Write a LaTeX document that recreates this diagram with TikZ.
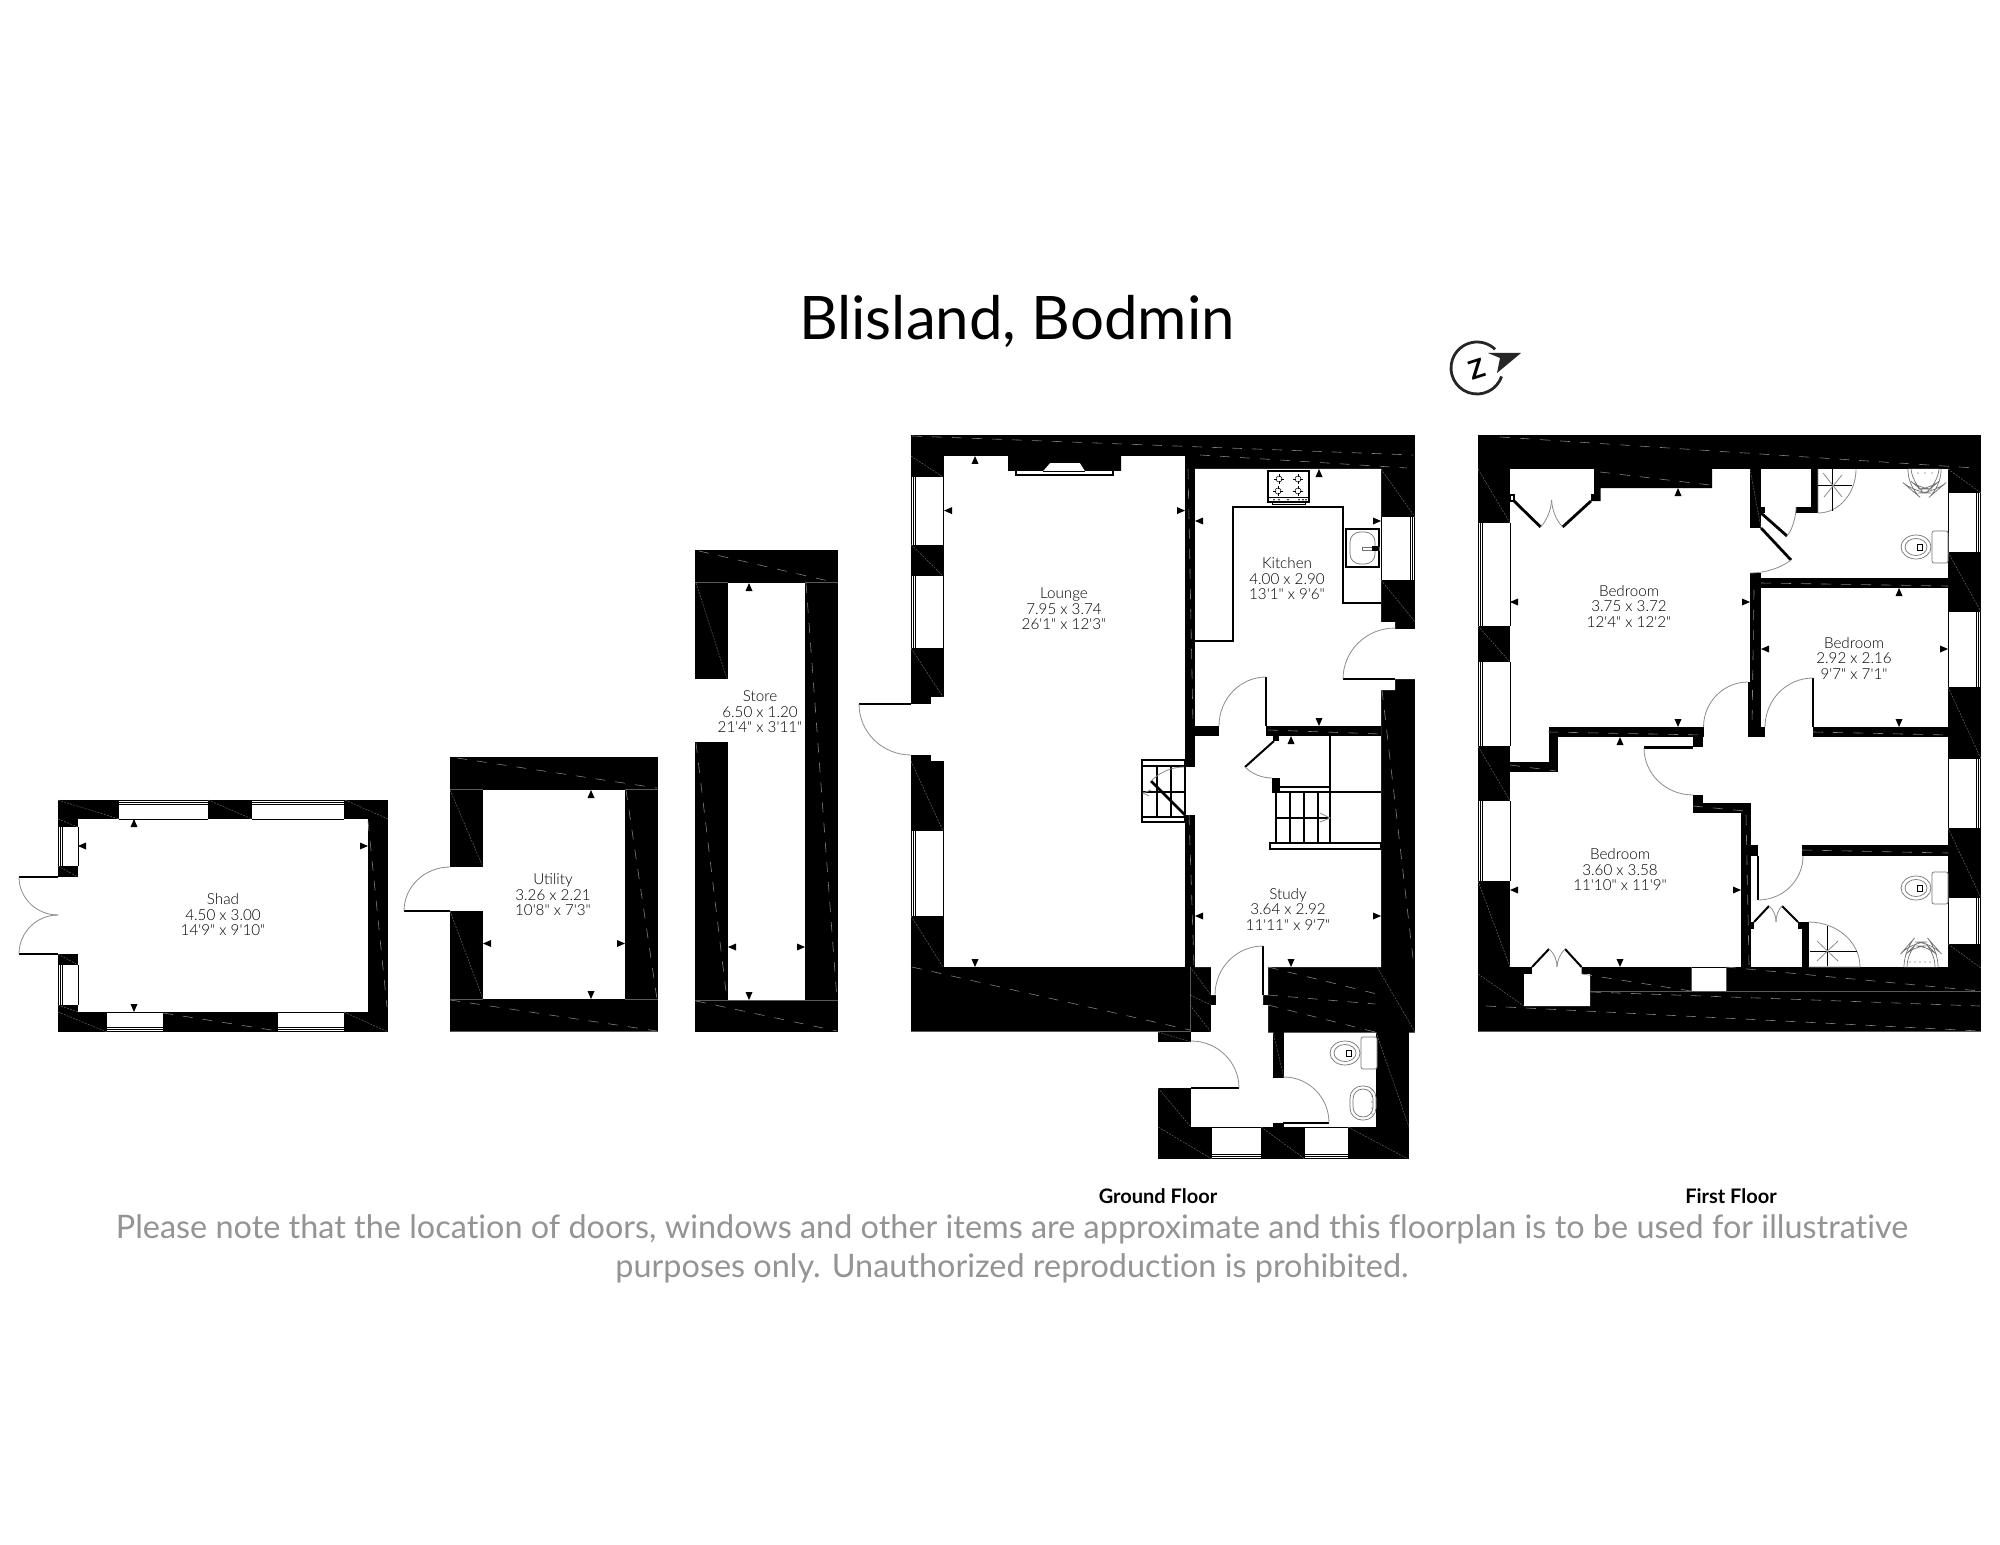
\documentclass[tikz,border=0pt]{standalone}
\usepackage{fontspec}
\setmainfont{Lato}[Ligatures=NoCommon]
\newfontfamily\lblfont{Lato}[UprightFont=* Light]
\tikzset{
  wall/.style={fill=black},
  room/.style={fill=white},
  thin line/.style={draw=black,line width=0.6pt},
  door leaf/.style={draw=black,line width=1.4pt},
  swing/.style={draw=black!45,line width=0.4pt},
  wdash/.style={draw=black!50,line width=0.3pt,dash pattern=on 5pt off 5pt},
  wdiag/.style={draw=black!60,line width=0.25pt,dash pattern=on 1pt off 0.6pt},
  wedge/.style={draw=black!65,line width=0.4pt},
  roomlabel/.style={align=center,inner sep=0pt,font=\lblfont\fontsize{7.6}{7.75}\selectfont},
  fixture/.style={draw=black!55,line width=0.35pt,fill=white},
}
\newcommand{\tipN}[2]{\fill (#1,#2) -- ++(-3.5,8) -- ++(7,0) -- cycle;}
\newcommand{\tipS}[2]{\fill (#1,#2) -- ++(-3.5,-8) -- ++(7,0) -- cycle;}
\newcommand{\tipW}[2]{\fill (#1,#2) -- ++(8,-3.5) -- ++(0,7) -- cycle;}
\newcommand{\tipE}[2]{\fill (#1,#2) -- ++(-8,-3.5) -- ++(0,7) -- cycle;}
\newcommand{\qarc}[6]{\draw[swing] (#1,#2) .. controls ({#1+0.552*(#3-#5)},{#2+0.552*(#4-#6)}) and ({#3+0.552*(#1-#5)},{#4+0.552*(#2-#6)}) .. (#3,#4);}
\newcommand{\winT}[4]{\fill[room] (#1,#3) rectangle (#2,#4);
  \foreach \d in {0.5,2.5,4.5}{\draw[thin line,line width=0.45pt] (#1,#3+\d) -- (#2,#3+\d);}
  \draw[thin line,line width=0.45pt] (#1,#4) -- (#2,#4);}
\newcommand{\winB}[4]{\fill[room] (#1,#3) rectangle (#2,#4);
  \foreach \d in {0.5,2.5,4.5}{\draw[thin line,line width=0.45pt] (#1,#4-\d) -- (#2,#4-\d);}
  \draw[thin line,line width=0.45pt] (#1,#3) -- (#2,#3);}
\newcommand{\winL}[4]{\fill[room] (#3,#1) rectangle (#4,#2);
  \foreach \d in {0.5,2.5,4.5}{\draw[thin line,line width=0.45pt] (#3+\d,#1) -- (#3+\d,#2);}
  \draw[thin line,line width=0.45pt] (#4,#1) -- (#4,#2);}
\newcommand{\winR}[4]{\fill[room] (#3,#1) rectangle (#4,#2);
  \foreach \d in {0.5,2.5,4.5}{\draw[thin line,line width=0.45pt] (#4-\d,#1) -- (#4-\d,#2);}
  \draw[thin line,line width=0.45pt] (#3,#1) -- (#3,#2);}
\newcommand{\burner}[2]{\draw[black,line width=0.25pt] (#1,#2) circle (3);
  \draw[black,line width=0.35pt] (#1-5,#2) -- (#1-2,#2) (#1+2,#2) -- (#1+5,#2) (#1,#2-5) -- (#1,#2-2) (#1,#2+2) -- (#1,#2+5);}
\newcommand{\toilet}[4]{
  \draw[fixture,rounded corners=1pt] (#3,#4) rectangle (#3+16,#4+32);
  \draw[fixture] (#1,#2) ellipse (15 and 12);
  \draw[fixture] (#1,#2) ellipse (11 and 8.5);
  \draw[black,line width=0.3pt] (#1+1,#2-3) rectangle (#1+6,#2+3);
}
\begin{document}
\begin{tikzpicture}[x=0.5pt,y=-0.5pt]
\useasboundingbox (0,0) rectangle (2000,1545);
\fill[white] (0,0) rectangle (2000,1545);

% ---------- Title and captions
\node[inner sep=0pt,font=\fontsize{30}{36}\selectfont] (title) at (1017,321) {Blisland, Bodmin};
\node[inner sep=0pt,font=\bfseries\fontsize{10}{11}\selectfont] (gf) at (1158,1196) {Ground Floor};
\node[inner sep=0pt,font=\bfseries\fontsize{10}{11}\selectfont] (ff) at (1731,1196) {First Floor};
\node[inner sep=0pt,align=center,text=black!42,font=\fontsize{16.2}{19.6}\selectfont] (note) at (1012,1249)
  {Please note that the location of doors, windows and other items are approximate and this floorplan is to be used for illustrative\\purposes only. Unauthorized reproduction is prohibited.};

% ---------- Compass
\draw[line width=1.4pt,black!85] (1477,368) ++(19:26) arc[start angle=19,end angle=314,radius=26];
\node[inner sep=0pt,rotate=18,font=\bfseries\fontsize{13}{13}\selectfont] (northmark) at (1477,369) {Z};
\fill[black!85] (1488,353) -- (1521,353) -- (1497,373) -- (1500,358) -- cycle;

% ---------- Shad
\fill[wall] (58,800) rectangle (388,1032);
\fill[room] (78,819) rectangle (368,1012);
\fill[room] (58,877) rectangle (79,954);
\winT{119}{208}{800}{819}
\winT{252}{344}{800}{819}
\winB{107}{163}{1012}{1032}
\winB{278}{344}{1012}{1032}
\winL{827}{866}{58}{78}
\winL{965}{1005}{58}{78}
\draw[door leaf] (19,877) -- (58,877);
\draw[door leaf] (19,954) -- (58,954);
\qarc{19}{877}{58}{915}{58}{877}
\qarc{19}{954}{58}{915}{58}{954}
\draw[wdash] (368,821) -- (387,1007);
\draw[wdash] (163,1013) -- (278,1031);
\foreach \a/\b/\c/\d in {58/800/119/819,208/800/252/819,345/800/388/819,58/1012/107/1032,344/1012/388/1032,58/819/78/827,58/866/78/877,58/954/78/965,58/1005/78/1012}
  {\draw[wdiag] (\a,\b) -- (\c,\d);}
\node[roomlabel] (shad) at (223,915) {Shad\\4.50 x 3.00\\14'9" x 9'10"};
\tipN{134}{819}\tipW{78}{846}\tipE{368}{846}\tipS{134}{1012}

% ---------- Utility
\fill[wall] (450,757) rectangle (658,1032);
\fill[room] (483,790) rectangle (625,999);
\fill[room] (450,867) rectangle (484,911);
\draw[door leaf] (404,911) -- (450,911);
\qarc{404}{911}{450}{867}{450}{911}
\draw[wdash] (457,758) -- (657,788);
\draw[wdash] (450,1000) -- (657,1031);
\draw[wdash] (626,790) -- (657,999);
\draw[wdiag] (450,790) -- (483,867);
\draw[wdiag] (450,911) -- (483,999);
\draw[wedge] (450,789) -- (483,789) (625,789) -- (658,789) (450,999) -- (483,999) (625,999) -- (658,999) (450,1031) -- (658,1031);
\node[roomlabel] (utility) at (553,895) {Utility\\3.26 x 2.21\\10'8" x 7'3"};
\tipN{591}{790}\tipW{483}{943.5}\tipE{625}{943.5}\tipS{591}{999}

% ---------- Store
\fill[wall] (695,550) rectangle (838,1032);
\fill[room] (728,583) rectangle (805,1000);
\fill[room] (695,679) rectangle (729,742);
\draw[wdash] (699,551) -- (837,583);
\draw[wdash] (696,743) -- (727,1000);
\draw[wdash] (806,583) -- (837,1000);
\draw[wdash] (696,1001) -- (837,1031);
\draw[wdiag] (696,583) -- (727,679);
\draw[wedge] (695,582) -- (728,582) (805,582) -- (838,582) (695,1000) -- (838,1000);
\node[roomlabel] (store) at (760,712) {Store\\6.50 x 1.20\\21'4" x 3'11"};
\tipN{749}{583}\tipW{728}{947}\tipE{805}{947}\tipS{749}{1000}

% ---------- Ground floor, main block
\fill[wall] (911,435) rectangle (1415,1032);
\fill[room] (943.7,456) rectangle (1185,967);
\fill[room] (911,704) rectangle (932,755);
\fill[room] (931,697) rectangle (944,761);
\fill[room] (1195,469) -- (1381,469) -- (1381,622) -- (1395,622) -- (1395,629) -- (1416,629) -- (1416,679) -- (1395,679) -- (1395,690) -- (1381,690) -- (1381,967) -- (1268,967) -- (1268,995) -- (1263,995) -- (1263,1005) -- (1268,1005) -- (1268,1033) -- (1211,1033) -- (1211,1005) -- (1216,1005) -- (1216,995) -- (1211,995) -- (1211,967) -- (1195,967) -- cycle;
\fill[room] (1184,767) rectangle (1196,815);
\fill[wall] (1195,726) rectangle (1219,736);
\fill[wall] (1266,726) rectangle (1381,736);
% fireplace
\fill[wall] (1008,456) -- (1121,456) -- (1121,471) -- (1085,471) -- (1080,463) -- (1050,463) -- (1043,471) -- (1008,471) -- cycle;
\draw[thin line] (1016,471) -- (1016,475) -- (1113,475) -- (1113,471);
\draw[thin line,line width=0.4pt] (1043,471) -- (1085,471);
% lounge windows
\winL{477}{544.5}{911}{943.7}
\winL{576}{648}{911}{943.7}
\winL{831}{916}{911}{943.7}
\draw[door leaf] (859,704) -- (911,704);
\qarc{859}{704}{911}{755}{911}{704}
% kitchen window
\winR{517}{580}{1381}{1415}
% kitchen outside door
\draw[door leaf] (1343,679) -- (1395,679);
\qarc{1343}{679}{1395}{628}{1395}{679}
% kitchen/study door
\draw[door leaf] (1266,677) -- (1266,726);
\qarc{1266}{677}{1219}{726}{1266}{726}
% worktop
\draw[thin line] (1195,641) -- (1233,641) -- (1233,507) -- (1343,507) -- (1343,603) -- (1381,603);
% hob
\draw[thin line,fill=white] (1268,471) rectangle (1309,502);
\draw[thin line,line width=0.4pt] (1268,497) -- (1309,497);
\draw[thin line,line width=0.4pt] (1272,502) -- (1272,504) -- (1305,504) -- (1305,502);
\burner{1279}{479}\burner{1298}{479}\burner{1278}{491}\burner{1298}{491}
\foreach \k in {1274,1279,1288,1299,1303,1306}{\fill (\k,499.7) circle (0.9);}
% sink
\draw[thin line] (1346,529) rectangle (1379,567);
\draw[fixture,fill=none,rounded corners=5pt] (1350,532) rectangle (1375,564);
\draw[black!55,line width=0.3pt] (1362,547) rectangle (1379,550);
\fill (1372,546) rectangle (1379,551);
% under-stairs door
\fill[wall] (1273,735) rectangle (1279,741);
\draw[thin line,line width=1pt] (1274,741) -- (1245,767);
\draw[swing] (1245,767) .. controls (1252,774) and (1262,778) .. (1272,778);
\fill[wall] (1272,778) rectangle (1280,793);
% main stairs
\draw[thin line] (1280,787) -- (1330,787);
\draw[thin line] (1330,736) -- (1330,843);
\draw[thin line] (1276,792) -- (1381,792);
\draw[thin line] (1276,792) -- (1276,843);
\draw[thin line] (1290,792) -- (1290,843) (1304,792) -- (1304,843) (1318,792) -- (1318,843);
\draw[thin line] (1276,818) -- (1330,818);
\draw[thin line] (1270,843) rectangle (1381,849);
\draw[swing] (1320,813) -- (1330,818) -- (1320,822);
% lounge stair cupboard
\draw[thin line,fill=white] (1142,760) rectangle (1185,822);
\draw[thin line] (1142,766) -- (1185,766) (1142,792) -- (1185,792) (1142,817) -- (1185,817);
\draw[thin line] (1157,766) -- (1157,817) (1171,766) -- (1171,817);
\fill[wall] (1185,760) rectangle (1195,767);
\draw[door leaf] (1151,781) -- (1185,815);
\draw[swing] (1151,781) .. controls (1160,772) and (1172,767) .. (1184,767);
\draw[swing] (1151,790) -- (1143,793) -- (1149,796);
% entrance door
\draw[thin line,line width=0.8pt] (1263,946) -- (1263,995);
\qarc{1215}{995}{1263}{946}{1263}{995}
% ground floor dashes
\draw[wdash] (912,436) -- (1413,455);
\draw[wdash] (1200,455) -- (1407,468);
\draw[wdash] (912,967) -- (1190,1030);
\draw[wdash] (1188,469) -- (1193,726);
\draw[wdash] (1189,815) -- (1194,967);
\draw[wdash] (1382,690) -- (1414,967);
\draw[wdash] (1268,730) -- (1381,734);
\draw[wdash] (1268,995) -- (1375,1004);
\draw[wdash] (1268,967) -- (1381,995);
\draw[wdash] (1268,1005) -- (1375,1032);
\draw[wedge] (1190,967) -- (1190,1042);
\draw[wedge] (1268,1032) -- (1415,1032);
\draw[wedge] (911,1031) -- (1190,1031);
\foreach \a/\b/\c/\d in {911/456/943/477,911/544.5/943/576,911/648/943/697,911/761/943/831,911/916/943/967,1381/469/1415/517,1381/580/1415/622,1377/967/1415/1032,1190/967/1211/995,1190/995/1211/1005,1190/1005/1211/1032}
  {\draw[wdiag] (\a,\b) -- (\c,\d);}

% ---------- Ground floor, porch and WC
\fill[wall] (1158,1032) rectangle (1191,1042);
\fill[wall] (1158,1088) rectangle (1191,1127);
\fill[wall] (1158,1127) rectangle (1409,1159);
\fill[wall] (1376,1032) rectangle (1409,1127);
\fill[wall] (1273,1032) rectangle (1284,1078);
\fill[wall] (1273,1123) rectangle (1284,1127);
\winB{1212}{1261}{1127}{1159}
\winB{1305}{1348}{1127}{1159}
\draw[door leaf] (1191,1088) -- (1239,1088);
\qarc{1191}{1041}{1239}{1088}{1191}{1088}
\draw[door leaf] (1283,1123) -- (1329,1123);
\qarc{1284}{1077}{1329}{1123}{1284}{1123}
\toilet{1345}{1053}{1361}{1037}
% WC basin
\draw[fixture,rounded corners=6pt] (1350,1086) rectangle (1376,1120);
\draw[fixture,rounded corners=5pt,fill=none] (1353,1089) rectangle (1373,1117);
\foreach \k in {1090,1096,1102,1108,1114}{\fill[black!70] (1372,\k) circle (0.7);}
\foreach \a/\b/\c/\d in {1158/1032/1191/1042,1376/1032/1409/1127,1273/1032/1284/1078,1158/1088/1191/1127,1158/1127/1212/1159,1261/1127/1305/1159,1348/1127/1408/1159}
  {\draw[wdiag] (\a,\b) -- (\c,\d);}
\node[roomlabel] (lounge) at (1064,609) {Lounge\\7.95 x 3.74\\26'1" x 12'3"};
\node[roomlabel] (kitchen) at (1287,579) {Kitchen\\4.00 x 2.90\\13'1" x 9'6"};
\node[roomlabel] (study) at (1288,909) {Study\\3.64 x 2.92\\11'11" x 9'7"};
\tipN{975}{456}\tipW{944}{510.6}\tipE{1185}{510.6}\tipS{975}{967}
\tipN{1319}{469}\tipW{1195}{521}\tipE{1381}{521}\tipS{1319}{726}
\tipN{1291}{736}\tipW{1195}{916}\tipE{1381}{916}\tipS{1291}{967}

% ---------- First floor
\fill[wall] (1478,435) rectangle (1981,1032);
\fill[room] (1510,469) rectangle (1948,967);
\fill[room] (1532,966) -- (1581.5,966) -- (1581.5,974) -- (1590,974) -- (1590,1006) -- (1524,1006) -- (1524,974) -- (1532,974) -- cycle;
\fill[room] (1691,968) rectangle (1726,991);
% walls
\fill[wall] (1594,469) -- (1712,469) -- (1712,488) -- (1600.5,488) -- (1600.5,501) -- (1591,501) -- (1591,494) -- (1594,494) -- cycle;
\fill[wall] (1750,469) rectangle (1761,528);
\fill[wall] (1761,507) rectangle (1765,513);
\fill[wall] (1811,469) rectangle (1818,513);
\fill[wall] (1796,507) rectangle (1818,513);
\fill[wall] (1750,573) rectangle (1761,682);
\fill[wall] (1748,682) rectangle (1761,737);
\fill[wall] (1761,727) rectangle (1765,737);
\fill[wall] (1761,578) rectangle (1948,588);
\fill[wall] (1813,727) rectangle (1948,737);
\fill[wall] (1548.5,727) rectangle (1703.5,737);
\fill[wall] (1693,737) rectangle (1703,747);
\fill[wall] (1548.5,737) rectangle (1558,772);
\fill[wall] (1510,762) rectangle (1558,772);
\fill[wall] (1693,795) rectangle (1703,803);
\fill[wall] (1693,803) rectangle (1751,813);
\fill[wall] (1741,803) rectangle (1751,967);
\fill[wall] (1751,845) rectangle (1758,856);
\fill[wall] (1802,845) rectangle (1948,856);
\fill[wall] (1741,922) rectangle (1754,929);
\fill[wall] (1798,922) rectangle (1808.5,929);
\fill[wall] (1802,929) rectangle (1808.5,967);
% windows
\winL{523}{626}{1478}{1510}
\winL{662}{746}{1478}{1510}
\winL{801}{881}{1478}{1510}
\winR{493}{552}{1948}{1981}
\winR{612}{687}{1948}{1981}
\winR{759}{828}{1948}{1981}
\winR{898}{944}{1948}{1981}
% wardrobe north
\draw[thin line,fill=white] (1510,495) rectangle (1514,501);
\draw[door leaf] (1514,501) -- (1540.6,527);
\draw[door leaf] (1591,501) -- (1562.6,527);
\draw[swing] (1540.6,527) .. controls (1547,520) and (1551,510) .. (1551.6,500);
\draw[swing] (1562.6,527) .. controls (1556,520) and (1552,510) .. (1551.6,500);
% bath doors
\draw[door leaf] (1761,513) -- (1787,536);
\draw[swing] (1787,536) .. controls (1792,530) and (1796,518) .. (1796,507);
\draw[door leaf] (1761,528) -- (1791,560);
\draw[swing] (1791,560) .. controls (1781,568) and (1765,573) .. (1750,573);
% bedroom doors
\qarc{1748}{682}{1703.5}{727}{1748}{727}
\draw[thin line,line width=1pt] (1813,678) -- (1813,727);
\qarc{1765}{727}{1813}{678}{1813}{727}
\draw[door leaf] (1644,747.5) -- (1693,747.5);
\qarc{1644}{748}{1693}{795}{1693}{748}
\draw[door leaf] (1758,856) -- (1758,900);
\qarc{1758}{900}{1803}{856}{1758}{856}
% wardrobe bath 2
\draw[door leaf,line width=1pt] (1754,922) -- (1769,906);
\draw[door leaf,line width=1pt] (1798,922) -- (1782,906);
\draw[swing] (1769,906) .. controls (1774,910) and (1776,916) .. (1776,922);
\draw[swing] (1782,906) .. controls (1778,910) and (1776,916) .. (1776,922);
% wardrobe south
\draw[door leaf,line width=1pt] (1532,967) -- (1549,949);
\draw[door leaf,line width=1pt] (1581.5,967) -- (1565,949);
\draw[swing] (1549,949) .. controls (1555,954) and (1557,961) .. (1557,967);
\draw[swing] (1565,949) .. controls (1560,954) and (1557,961) .. (1557,967);
% shower 1
\draw[swing] (1856,469) arc[start angle=0,end angle=90,x radius=38,y radius=44] -- (1818,469);
\draw[thin line,line width=0.4pt] (1818,485) -- (1852,485) (1832,469) -- (1832,511);
\draw[swing] (1823,473) -- (1842,497) (1824,497) -- (1842,475);
% shower 2
\draw[swing] (1808.5,922) arc[start angle=-90,end angle=0,x radius=51.5,y radius=45] -- (1808.5,967);
\draw[thin line,line width=0.4pt] (1810,951) -- (1857,951) (1827,926) -- (1827,966);
\draw[swing] (1817,941) -- (1838,961) (1817,961) -- (1838,941);
% toilets and basins
\toilet{1916}{547}{1932}{531}
\toilet{1916}{888}{1932}{872}
\draw[fixture,rounded corners=8pt] (1908,469) -- (1908,487) -- (1915,493) -- (1934,493) -- (1941,487) -- (1941,469);
\draw[fixture,fill=none,rounded corners=6pt] (1911,469) -- (1913,483) -- (1920,489) -- (1930,489) -- (1937,483) -- (1939,469);
\draw[fixture,rounded corners=8pt] (1904,967) -- (1904,950) -- (1911,942) -- (1931,942) -- (1938,950) -- (1938,967);
\draw[fixture,fill=none,rounded corners=6pt] (1907,967) -- (1908,952) -- (1914,946) -- (1928,946) -- (1934,952) -- (1935,967);
\foreach \k in {1910,1915,1920,1925,1930}{\fill[black!70] (\k,962) circle (0.7);}
\foreach \k in {1918,1925,1932}{\fill[black!70] (\k,473) circle (0.7);}
% first floor dashes
\draw[wdash] (1500,437) -- (1975,468);
\draw[wdash] (1726,967) -- (1980,991);
\draw[wdash] (1591,992) -- (1980,1006);
\draw[wdash] (1486,1006) -- (1980,1031);
\draw[wdash] (1761,583) -- (1948,586);
\draw[wdash] (1813,732) -- (1948,735);
\draw[wdash] (1548,732) -- (1703,735);
\draw[wdash] (1802,850) -- (1948,853);
\draw[wdash] (1754,590) -- (1752,725);
\draw[wdash] (1746,815) -- (1749,965);
\draw[wdash] (1693,806) -- (1745,811);
\draw[wdash] (1510,765) -- (1556,771);
\draw[wdash] (1582,974) -- (1691,991);
\draw[wdash] (1600,472) -- (1710,485);
\draw[wedge] (1590,991) -- (1981,991);
\draw[wedge] (1478,1031) -- (1981,1031);
\draw[wedge] (1691,967) -- (1691,991) (1726,967) -- (1726,991);
\foreach \a/\b/\c/\d in {1478/469/1510/523,1478/626/1510/662,1478/746/1510/801,1478/881/1510/967,1948/469/1981/493,1948/552/1981/612,1948/687/1981/759,1948/828/1981/898,1948/944/1981/968,1478/974/1524/1006,1750/469/1761/528}
  {\draw[wdiag] (\a,\b) -- (\c,\d);}
\node[roomlabel] (bedone) at (1629,606) {Bedroom\\3.75 x 3.72\\12'4" x 12'2"};
\node[roomlabel] (bedtwo) at (1854,658) {Bedroom\\2.92 x 2.16\\9'7" x 7'1"};
\node[roomlabel] (bedthree) at (1620,870) {Bedroom\\3.60 x 3.58\\11'10" x 11'9"};
\tipN{1678}{488}\tipW{1510}{602}\tipE{1750}{602}\tipS{1678}{727}
\tipN{1899}{588}\tipW{1761}{649}\tipE{1948}{649}\tipS{1899}{727}
\tipN{1620}{737}\tipW{1510}{890}\tipE{1741}{890}\tipS{1620}{967}
\end{tikzpicture}
\end{document}
